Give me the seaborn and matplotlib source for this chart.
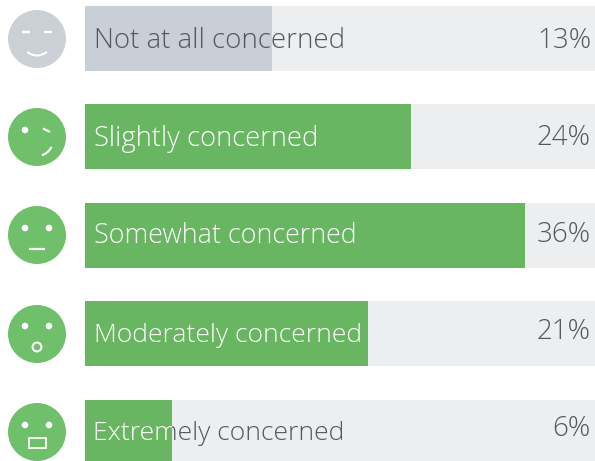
import pandas as pd
import matplotlib
matplotlib.use("Agg")
import matplotlib.pyplot as plt
from matplotlib.patches import Arc, Circle, Rectangle
import seaborn as sns

# answers, printed shares, and bar lengths (in px)
labels = ["Not at all concerned", "Slightly concerned", "Somewhat concerned",
          "Moderately concerned", "Extremely concerned"]
shares = ["13%", "24%", "36%", "21%", "6%"]
bar_lengths = [187, 326, 440, 283, 87]
track_lengths = [510, 510, 510, 510, 510]
bar_colors = ["#c9cfd6", "#69b662", "#69b662", "#69b662", "#69b662"]

sns.set_style("white")
plt.rcParams["font.family"] = ["Open Sans", "DejaVu Sans"]

GREEN_FACE = "#70bf6b"
GREY_FACE = "#cbd0d6"
DARK = "#54575c"

df = pd.DataFrame({"label": labels, "bar": bar_lengths, "track": track_lengths})

fig = plt.figure(figsize=(5.95, 4.61), dpi=100)
ax = fig.add_axes([0, 0, 1, 1])
sns.barplot(data=df, y="label", x="track", color="#edeef0", width=0.66, saturation=1, linewidth=0, ax=ax)
n_track = len(ax.patches)
sns.barplot(data=df, y="label", x="bar", hue="label", palette=bar_colors, width=0.66,
            saturation=1, linewidth=0, legend=False, ax=ax)
fill_bars = ax.patches[n_track:]
ax.set_xlim(-85, 510)
ax.set_ylim(4.29, -0.391)
ax.axis("off")

# overlay in picture pixels for the faces and text
ov = fig.add_axes([0, 0, 1, 1])
ov.set_xlim(0, 595)
ov.set_ylim(461, 0)
ov.axis("off")
ov.patch.set_alpha(0)

face_y = [39, 137, 235, 334, 432]
for i, y in enumerate(face_y):
    ov.add_patch(Circle((37, y), 29, color=GREY_FACE if i == 0 else GREEN_FACE, lw=0))


def stroke(xs, ys, lw=1.6):
    ov.plot(xs, ys, color="white", lw=lw, solid_capstyle="butt")


def eye(x, y):
    ov.add_patch(Circle((x, y), 3.3, color="white", lw=0))


# face 1
stroke([22, 30], [32, 32])
stroke([44, 52], [32, 32])
ov.add_patch(Arc((37, 40), 30, 31, theta1=50, theta2=130, color="white", lw=1.5))
# face 2
eye(25, 130)
stroke([43, 50], [128.5, 132])
ov.add_patch(Arc((37, 140), 32, 32, theta1=25, theta2=72, color="white", lw=1.5))
# face 3
eye(25, 228)
eye(49, 228)
stroke([29, 45], [249, 249])
# face 4
eye(25, 326)
eye(49, 326)
ov.add_patch(Circle((37, 347), 4.4, fc="none", ec="white", lw=1.5))
# face 5
eye(25, 425)
eye(49, 425)
ov.add_patch(Rectangle((29, 438), 17, 10, fc="none", ec="white", lw=1.3))

label_x = [94, 94, 94, 94, 93]
label_base = [48, 146, 243, 342, 440]
label_size = [19.9, 19.7, 19.4, 19.05, 19.05]
share_base = [48, 145, 242, 339, 436]
for i, lab in enumerate(labels):
    bar = fill_bars[i]
    inner = Rectangle((bar.get_x(), bar.get_y()), bar.get_width(), bar.get_height(), transform=ax.transData)
    outer = Rectangle((bar.get_width(), bar.get_y()), 510, bar.get_height(), transform=ax.transData)
    t = ov.text(label_x[i], label_base[i], lab, fontsize=label_size[i], weight="light", color=DARK, va="baseline")
    t.set_clip_on(True)
    t.set_clip_path(outer)
    t = ov.text(label_x[i], label_base[i], lab, fontsize=label_size[i], weight="light",
                color=DARK if i == 0 else "white", va="baseline")
    t.set_clip_on(True)
    t.set_clip_path(inner)
    ov.text(591, share_base[i], shares[i], fontsize=20, weight="light", color=DARK, ha="right", va="baseline")

plt.savefig("out.png", dpi=100)
